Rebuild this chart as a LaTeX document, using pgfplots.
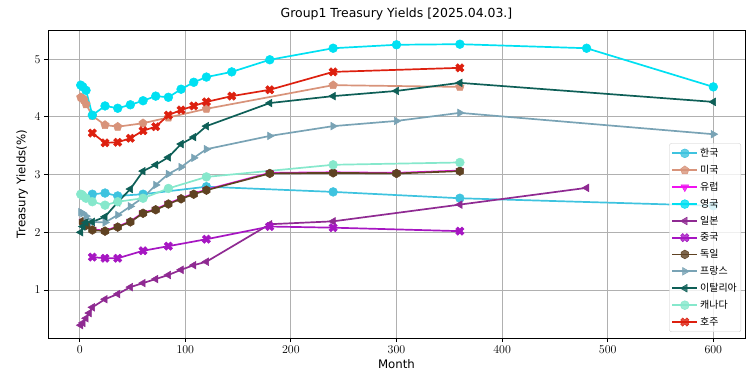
\documentclass[border=0pt]{standalone}
\usepackage{fontspec}
\setmainfont{DejaVu Sans}
\newfontfamily\kr{Noto Sans CJK KR}
\usepackage{pgfplots}
\pgfplotsset{compat=1.18}

\pgfdeclareplotmark{Xf}{%
  \pgfpathmoveto{\pgfqpoint{-0.474\pgfplotmarksize}{0.940\pgfplotmarksize}}%
  \pgfpathlineto{\pgfqpoint{0pt}{0.467\pgfplotmarksize}}%
  \pgfpathlineto{\pgfqpoint{0.474\pgfplotmarksize}{0.940\pgfplotmarksize}}%
  \pgfpathlineto{\pgfqpoint{0.940\pgfplotmarksize}{0.474\pgfplotmarksize}}%
  \pgfpathlineto{\pgfqpoint{0.467\pgfplotmarksize}{0pt}}%
  \pgfpathlineto{\pgfqpoint{0.940\pgfplotmarksize}{-0.474\pgfplotmarksize}}%
  \pgfpathlineto{\pgfqpoint{0.474\pgfplotmarksize}{-0.940\pgfplotmarksize}}%
  \pgfpathlineto{\pgfqpoint{0pt}{-0.467\pgfplotmarksize}}%
  \pgfpathlineto{\pgfqpoint{-0.474\pgfplotmarksize}{-0.940\pgfplotmarksize}}%
  \pgfpathlineto{\pgfqpoint{-0.940\pgfplotmarksize}{-0.474\pgfplotmarksize}}%
  \pgfpathlineto{\pgfqpoint{-0.467\pgfplotmarksize}{0pt}}%
  \pgfpathlineto{\pgfqpoint{-0.940\pgfplotmarksize}{0.474\pgfplotmarksize}}%
  \pgfpathclose
  \pgfusepathqfillstroke
}
\pgfdeclareplotmark{hexa}{%
  \pgfpathmoveto{\pgfqpoint{0pt}{\pgfplotmarksize}}%
  \pgfpathlineto{\pgfqpoint{-0.866\pgfplotmarksize}{0.5\pgfplotmarksize}}%
  \pgfpathlineto{\pgfqpoint{-0.866\pgfplotmarksize}{-0.5\pgfplotmarksize}}%
  \pgfpathlineto{\pgfqpoint{0pt}{-\pgfplotmarksize}}%
  \pgfpathlineto{\pgfqpoint{0.866\pgfplotmarksize}{-0.5\pgfplotmarksize}}%
  \pgfpathlineto{\pgfqpoint{0.866\pgfplotmarksize}{0.5\pgfplotmarksize}}%
  \pgfpathclose
  \pgfusepathqfillstroke
}

\definecolor{cKR}{HTML}{3EC3DF}
\definecolor{cUS}{HTML}{D8937A}
\definecolor{cEU}{HTML}{F012F0}
\definecolor{cUK}{HTML}{00E0F2}
\definecolor{cJP}{HTML}{8F2A92}
\definecolor{cCN}{HTML}{A616C2}
\definecolor{cDE}{HTML}{5F4222}
\definecolor{cFR}{HTML}{79A3B5}
\definecolor{cIT}{HTML}{0E5F57}
\definecolor{cCA}{HTML}{86E8CC}
\definecolor{cAU}{HTML}{DD200F}

\begin{document}
\begin{tikzpicture}
\begin{axis}[
  width=697bp, height=308bp, scale only axis,
  xmin=-30, xmax=630, ymin=0.168, ymax=5.506,
  xtick={0,100,...,600}, ytick={1,2,3,4,5},
  grid=major,
  major grid style={color=black!31, line width=0.9bp},
  axis line style={line width=0.9bp},
  tick align=outside, tick pos=left,
  major tick length=4bp,
  tick style={black, line width=0.9bp},
  ticklabel style={font=\fontsize{11.8}{13}\selectfont},
  label style={font=\fontsize{11.8}{13}\selectfont},
  xlabel={Month},
  ylabel={Treasury Yields(\%)},
  title={Group1 Treasury Yields [2025.04.03.]},
  title style={font=\fontsize{12.5}{14}\selectfont},
  every axis plot/.append style={line width=1.7bp},
  mark size=4.4bp,
  legend cell align=left,
  legend image code/.code={\draw[mark repeat=2,mark phase=2,#1] plot coordinates {(0bp,0bp)(12.5bp,0bp)(25bp,0bp)};},
  legend style={at={(0.9943,0.0195)}, anchor=south east, draw=black!20,
    rounded corners=2bp, fill=white, fill opacity=0.8, text opacity=1,
    font=\kr\fontsize{10}{12}\selectfont, row sep=3.2bp, inner xsep=2bp, inner ysep=3bp,
    /tikz/every even column/.append style={column sep=3bp}},
]
% Korea
\addplot[color=cKR, mark=*, mark options={solid, line width=0.5bp, fill=cKR}] coordinates {
(12,2.66)(24,2.68)(36,2.63)(60,2.66)(120,2.79)(240,2.70)(360,2.59)(600,2.46)};
\addlegendentry{한국}
% US
\addplot[color=cUS, mark=pentagon*, mark options={solid, line width=0.5bp, fill=cUS}] coordinates {
(1,4.34)(2,4.33)(3,4.32)(4,4.29)(6,4.22)(12,4.02)(24,3.86)(36,3.83)(60,3.89)(84,3.99)(120,4.14)(240,4.55)(360,4.52)};
\addlegendentry{미국}
% Europe
\addplot[color=cEU, mark=triangle*, mark options={solid, rotate=180, line width=0.5bp, fill=cEU}] coordinates {
(3,2.19)(6,2.13)(12,2.05)(24,2.03)(36,2.10)(48,2.19)(60,2.34)(72,2.40)(84,2.50)(96,2.59)(108,2.67)(120,2.74)(180,3.03)(240,3.04)(300,3.03)(360,3.07)};
\addlegendentry{유럽}
% UK
\addplot[color=cUK, mark=*, mark options={solid, line width=0.5bp, fill=cUK}] coordinates {
(1,4.55)(3,4.52)(6,4.46)(12,4.03)(24,4.19)(36,4.15)(48,4.21)(60,4.28)(72,4.36)(84,4.34)(96,4.48)(108,4.60)(120,4.69)(144,4.78)(180,4.99)(240,5.19)(300,5.25)(360,5.26)(480,5.19)(600,4.52)};
\addlegendentry{영국}
% Japan
\addplot[color=cJP, mark=triangle*, mark options={solid, rotate=90, line width=0.5bp, fill=cJP}] coordinates {
(1,0.39)(3,0.43)(6,0.51)(9,0.60)(12,0.70)(24,0.84)(36,0.93)(48,1.05)(60,1.12)(72,1.19)(84,1.26)(96,1.35)(108,1.43)(120,1.49)(180,2.14)(240,2.19)(360,2.48)(480,2.77)};
\addlegendentry{일본}
% China
\addplot[color=cCN, mark=Xf, mark options={solid, line width=0.5bp, fill=cCN}] coordinates {
(12,1.57)(24,1.55)(36,1.55)(60,1.68)(84,1.76)(120,1.88)(180,2.10)(240,2.08)(360,2.02)};
\addlegendentry{중국}
% Germany
\addplot[color=cDE, mark=hexa, mark options={solid, line width=0.5bp, fill=cDE}] coordinates {
(3,2.18)(6,2.12)(12,2.04)(24,2.02)(36,2.09)(48,2.18)(60,2.33)(72,2.39)(84,2.49)(96,2.58)(108,2.66)(120,2.73)(180,3.02)(240,3.03)(300,3.02)(360,3.06)};
\addlegendentry{독일}
% France
\addplot[color=cFR, mark=triangle*, mark options={solid, rotate=-90, line width=0.5bp, fill=cFR}] coordinates {
(1,2.35)(3,2.33)(6,2.28)(12,2.18)(24,2.17)(36,2.30)(48,2.45)(60,2.60)(72,2.82)(84,3.01)(96,3.13)(108,3.29)(120,3.44)(180,3.67)(240,3.84)(300,3.93)(360,4.07)(600,3.70)};
\addlegendentry{프랑스}
% Italy
\addplot[color=cIT, mark=triangle*, mark options={solid, rotate=90, line width=0.5bp, fill=cIT}] coordinates {
(1,2.00)(3,2.10)(6,2.17)(12,2.18)(24,2.27)(36,2.52)(48,2.75)(60,3.06)(72,3.17)(84,3.30)(96,3.53)(108,3.65)(120,3.84)(180,4.24)(240,4.36)(300,4.45)(360,4.59)(600,4.26)};
\addlegendentry{이탈리아}
% Canada
\addplot[color=cCA, mark=*, mark options={solid, line width=0.5bp, fill=cCA}] coordinates {
(1,2.66)(2,2.65)(3,2.63)(6,2.59)(12,2.53)(24,2.47)(36,2.53)(60,2.59)(84,2.76)(120,2.96)(240,3.17)(360,3.21)};
\addlegendentry{캐나다}
% Australia
\addplot[color=cAU, mark=Xf, mark options={solid, line width=0.5bp, fill=cAU}] coordinates {
(12,3.72)(24,3.55)(36,3.56)(48,3.63)(60,3.76)(72,3.83)(84,4.03)(96,4.12)(108,4.19)(120,4.26)(144,4.36)(180,4.47)(240,4.78)(360,4.85)};
\addlegendentry{호주}
\end{axis}
\pgfresetboundingbox
\path[use as bounding box] (-48bp,-53bp) rectangle (707bp,338bp);
\end{tikzpicture}
\end{document}
